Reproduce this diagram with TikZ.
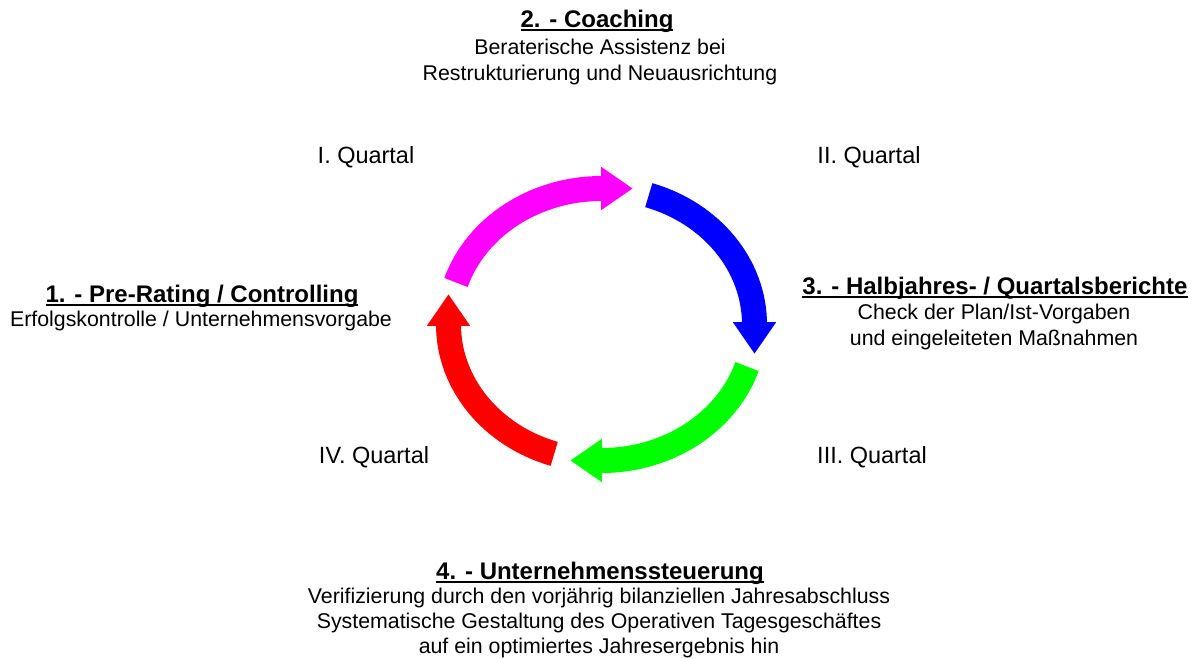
\documentclass[tikz,border=0pt]{standalone}
\usepackage{fontspec}
\setmainfont{Liberation Sans}
\usetikzlibrary{arrows.meta}

\definecolor{qmagenta}{RGB}{255,0,255}
\definecolor{qblue}{RGB}{0,0,255}
\definecolor{qgreen}{RGB}{0,255,0}
\definecolor{qred}{RGB}{255,0,0}

% underline close under the baseline
\newcommand{\phaseuline}[1]{\setbox0\hbox{#1}\rlap{\rule[-2.6pt]{\wd0}{1.4pt}}\box0}

\tikzset{every picture/.style={line width=0.75pt}}
\tikzset{
	quarter/.style={line width=18.75pt, -{Triangle[length=23.5pt,width=32.5pt,line width=0pt]}},
	phasetitle/.style={font=\fontsize{18}{21.6}\selectfont\bfseries},
	phasetext/.style={font=\fontsize{16}{19.2}\selectfont, align=center},
	quartertext/.style={font=\fontsize{17.6}{20}\selectfont}
}

\begin{document}
\begin{tikzpicture}[x=0.75pt,y=0.75pt,yscale=-1,xscale=1]
	\path[use as bounding box] (0,0) rectangle (1193,658);

	% centre of the cycle
	\coordinate (ctr) at (601.5,324.5);

	% Quarter arrows
	\draw [quarter, qmagenta] (ctr) ++(198:153 and 136) arc [start angle=198, end angle=270, x radius=153, y radius=136] -- ++(31,0);
	\draw [quarter, qblue] (ctr) ++(288:153 and 136) arc [start angle=288, end angle=360, x radius=153, y radius=136] -- ++(0,29);
	\draw [quarter, qgreen] (ctr) ++(18:153 and 136) arc [start angle=18, end angle=90, x radius=153, y radius=136] -- ++(-31,0);
	\draw [quarter, qred] (ctr) ++(108:153 and 136) arc [start angle=108, end angle=180, x radius=153, y radius=136] -- ++(0,-30);

	% Quarter labels
	\draw (366,157) node [quartertext] (q1) {I. Quartal};
	\draw (869,157) node [quartertext] (q2) {II. Quartal};
	\draw (872,457) node [quartertext] (q3) {III. Quartal};
	\draw (374,457) node [quartertext] (q4) {IV. Quartal};

	% Phase 1
	\draw (202,296) node [phasetitle] (p1title) {\phaseuline{1. - Pre-Rating / Controlling}};
	\draw (201,321) node [phasetext] (p1text) {Erfolgskontrolle / Unternehmensvorgabe};
	% Phase 2
	\draw (597,21) node [phasetitle] (p2title) {\phaseuline{2. - Coaching}};
	\draw (600,62) node [phasetext] (p2text) {Beraterische Assistenz bei\\Restrukturierung und Neuausrichtung};
	% Phase 3
	\draw (995,288) node [phasetitle] (p3title) {\phaseuline{3. - Halbjahres- / Quartalsberichte}};
	\draw (994,327) node [phasetext] (p3text) {Check der Plan/Ist-Vorgaben\\und eingeleiteten Maßnahmen};
	% Phase 4
	\draw (600,573) node [phasetitle] (p4title) {\phaseuline{4. - Unternehmenssteuerung}};
	\draw (599,623) node [phasetext, font=\fontsize{16}{18.6}\selectfont] (p4text) {Verifizierung durch den vorjährig bilanziellen Jahresabschluss\\Systematische Gestaltung des Operativen Tagesgeschäftes\\auf ein optimiertes Jahresergebnis hin};

\end{tikzpicture}
\end{document}
